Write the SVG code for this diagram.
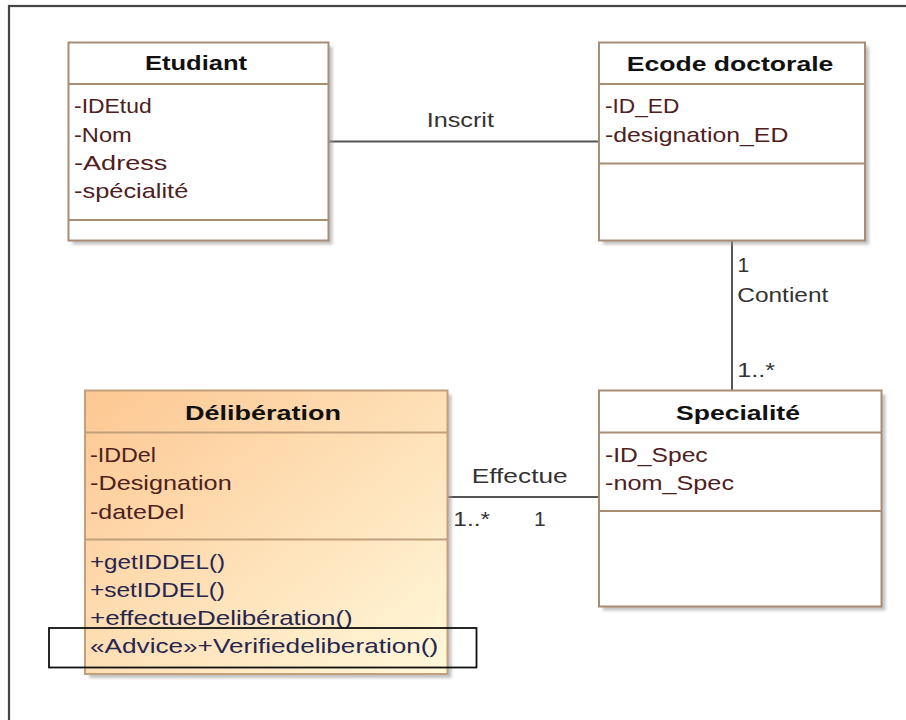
<svg xmlns="http://www.w3.org/2000/svg" width="906" height="720" viewBox="0 0 906 720">
<defs>
<linearGradient id="delGrad" x1="0" y1="0" x2="1" y2="1">
<stop offset="0" stop-color="#fdc792"/>
<stop offset="1" stop-color="#fff8da"/>
</linearGradient>
<filter id="sh" x="-10%" y="-10%" width="130%" height="130%">
<feGaussianBlur stdDeviation="1.5"/>
</filter>
</defs>
<style>
.box{fill:#ffffff;stroke:#a88c74;stroke-width:2}
.div{stroke:#a88c74;stroke-width:2}
.shadow{fill:#9a9a9a;opacity:0.6;filter:url(#sh)}
.title{font-family:"Liberation Sans",Arial,sans-serif;font-size:20px;font-weight:bold;fill:#111}
.attr{font-family:"Liberation Sans",Arial,sans-serif;font-size:21px;fill:#4e2020}
.op{font-family:"Liberation Sans",Arial,sans-serif;font-size:21px;fill:#262650}
.lbl{font-family:"Liberation Sans",Arial,sans-serif;font-size:21px;fill:#333}
.conn{stroke:#555;stroke-width:2;fill:none}
</style>
<rect width="906" height="720" fill="#ffffff"/>
<rect x="9" y="6" width="1000" height="1000" fill="none" stroke="#444" stroke-width="2.2"/>

<g id="connectors">
<line class="conn" x1="328.5" y1="141.5" x2="599" y2="141.5"/>
<line class="conn" x1="732" y1="240.5" x2="732" y2="390.5"/>
<line class="conn" x1="447.5" y1="497" x2="599" y2="497"/>
<text class="lbl" x="426.7" y="127.3" textLength="67.3" lengthAdjust="spacingAndGlyphs">Inscrit</text>
<text class="lbl" x="737.5" y="271.7">1</text>
<text class="lbl" x="737.3" y="301.7" textLength="91" lengthAdjust="spacingAndGlyphs">Contient</text>
<text class="lbl" x="737.3" y="377.3" textLength="37.7" lengthAdjust="spacingAndGlyphs">1..*</text>
<text class="lbl" x="471.7" y="482.7" textLength="96" lengthAdjust="spacingAndGlyphs">Effectue</text>
<text class="lbl" x="453.3" y="526" textLength="36.7" lengthAdjust="spacingAndGlyphs">1..*</text>
<text class="lbl" x="534" y="526">1</text>
</g>

<g id="etudiant">
<rect class="shadow" x="72.5" y="46.5" width="260" height="198"/>
<rect class="box" x="68.5" y="42.5" width="260" height="198"/>
<line class="div" x1="68.5" y1="84" x2="328.5" y2="84"/>
<line class="div" x1="68.5" y1="220" x2="328.5" y2="220"/>
<text class="title" x="145" y="70" textLength="102" lengthAdjust="spacingAndGlyphs">Etudiant</text>
<text class="attr" x="74" y="113" textLength="77.7" lengthAdjust="spacingAndGlyphs">-IDEtud</text>
<text class="attr" x="74" y="142" textLength="57.7" lengthAdjust="spacingAndGlyphs">-Nom</text>
<text class="attr" x="74" y="170" textLength="93.3" lengthAdjust="spacingAndGlyphs">-Adress</text>
<text class="attr" x="74" y="198" textLength="114.3" lengthAdjust="spacingAndGlyphs">-spécialité</text>
</g>

<g id="ecode-doctorale">
<rect class="shadow" x="603" y="46.5" width="266" height="198"/>
<rect class="box" x="599" y="42.5" width="266" height="198"/>
<line class="div" x1="599" y1="84" x2="865" y2="84"/>
<line class="div" x1="599" y1="163.5" x2="865" y2="163.5"/>
<text class="title" x="626.7" y="70.7" textLength="206.7" lengthAdjust="spacingAndGlyphs">Ecode doctorale</text>
<text class="attr" x="605" y="113" textLength="74.3" lengthAdjust="spacingAndGlyphs">-ID_ED</text>
<text class="attr" x="605" y="142" textLength="183.3" lengthAdjust="spacingAndGlyphs">-designation_ED</text>
</g>

<g id="specialite">
<rect class="shadow" x="603" y="394.5" width="282.5" height="216"/>
<rect class="box" x="599" y="390.5" width="282.5" height="216"/>
<line class="div" x1="599" y1="432.5" x2="881.5" y2="432.5"/>
<line class="div" x1="599" y1="511" x2="881.5" y2="511"/>
<text class="title" x="676" y="420" textLength="124" lengthAdjust="spacingAndGlyphs">Specialité</text>
<text class="attr" x="605" y="461.7" textLength="102.7" lengthAdjust="spacingAndGlyphs">-ID_Spec</text>
<text class="attr" x="605" y="490" textLength="129" lengthAdjust="spacingAndGlyphs">-nom_Spec</text>
</g>

<g id="deliberation">
<rect class="shadow" x="89" y="394.5" width="362.5" height="283.5"/>
<rect x="85" y="390.5" width="362.5" height="283.5" fill="url(#delGrad)" stroke="#c2a07c" stroke-width="2"/>
<line x1="85" y1="432.5" x2="447.5" y2="432.5" stroke="#c2a07c" stroke-width="2"/>
<line x1="85" y1="539.5" x2="447.5" y2="539.5" stroke="#c2a07c" stroke-width="2"/>
<text class="title" x="185" y="420" textLength="156" lengthAdjust="spacingAndGlyphs">Délibération</text>
<text class="attr" x="90" y="461.7" textLength="66" lengthAdjust="spacingAndGlyphs">-IDDel</text>
<text class="attr" x="90" y="490" textLength="141.7" lengthAdjust="spacingAndGlyphs">-Designation</text>
<text class="attr" x="90" y="519.3" textLength="94.3" lengthAdjust="spacingAndGlyphs">-dateDel</text>
<text class="op" x="90" y="569.3" textLength="135" lengthAdjust="spacingAndGlyphs">+getIDDEL()</text>
<text class="op" x="90" y="596.7" textLength="135" lengthAdjust="spacingAndGlyphs">+setIDDEL()</text>
<text class="op" x="90" y="625" textLength="262.7" lengthAdjust="spacingAndGlyphs">+effectueDelibération()</text>
<text class="op" x="90" y="653.3" textLength="348.3" lengthAdjust="spacingAndGlyphs" fill="#3a3a5c">«Advice»+Verifiedeliberation()</text>
</g>

<g id="highlight">
<rect x="49" y="628" width="427.5" height="39.5" fill="none" stroke="#111" stroke-width="1.8"/>
</g>
</svg>
